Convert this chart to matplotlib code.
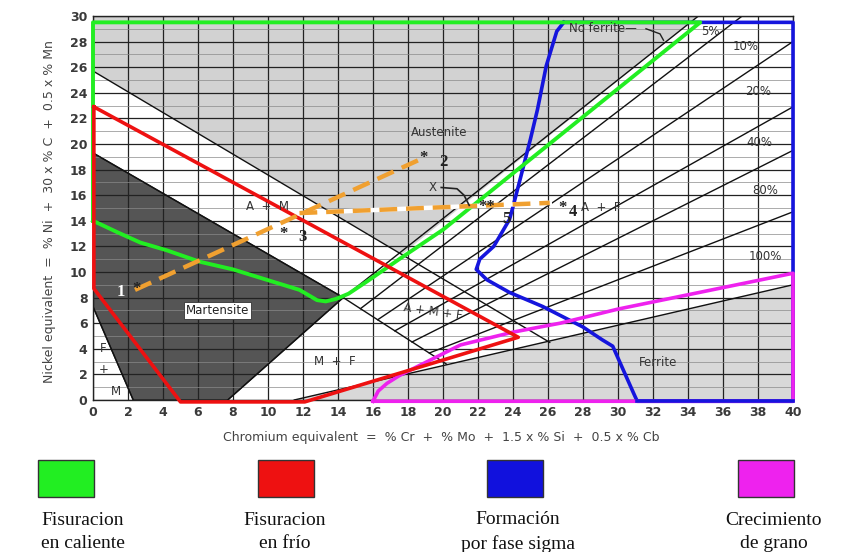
import matplotlib
matplotlib.use("Agg")
import matplotlib.pyplot as plt
from matplotlib.patches import Polygon, Rectangle

# --- datos del diagrama (Schaeffler) ---
x_ticks = list(range(0, 41, 2))
y_ticks = list(range(0, 31, 2))

# regiones de fase
austenita_x = [0, 34.6, 17.67, 0]
austenita_y = [30, 30, 11.39, 25.7]
martensita_x = [0, 14.3, 7.7, 2.3, 0]
martensita_y = [19.3, 8.0, 0, 0, 7.3]
ferrita_x = [11.5, 40, 40]
ferrita_y = [0, 9.0, 0]

# lineas negras
linea_am_x = [0, 26.1]
linea_am_y = [25.7, 4.5]
linea_mart_x = [0, 14.3, 20.2]
linea_mart_y = [19.3, 8.0, 2.8]
linea_fm_x = [0, 2.3]
linea_fm_y = [7.3, 0]
linea_mart_inf_x = [7.7, 14.3]
linea_mart_inf_y = [0, 8.0]

# lineas de ferrita (inicio y fin)
ferrita_pct = ["0%", "5%", "10%", "20%", "40%", "80%", "100%"]
fer_x0 = [14.3, 15.28, 16.27, 17.25, 18.23, 19.22, 11.5]
fer_y0 = [8.0, 7.13, 6.27, 5.4, 4.53, 3.67, 0.0]
fer_x1 = [34.6, 37.1, 40, 40, 40, 40, 40]
fer_y1 = [30, 30, 28.0, 22.9, 19.5, 14.7, 9.0]

# zonas de problemas
verde_x = [0, 1.4, 2.7, 4.2, 6.1, 8, 9.9, 11.8, 12.8, 13.3, 13.9, 14.6, 15.7, 17.5, 20, 34.7, 0, 0]
verde_y = [14, 13.1, 12.3, 11.7, 10.8, 10.2, 9.4, 8.6, 7.8, 7.7, 7.9, 8.3, 9.3, 11.0, 13.3, 29.5, 29.5, 14]
rojo_x = [0.05, 0.05, 5, 12.1, 24.3, 0.05]
rojo_y = [22.9, 8.7, -0.15, -0.15, 4.9, 22.9]
azul_x = [26.9, 26.5, 25.9, 25.4, 25.0, 24.4, 24.0, 23.8, 22.9, 22.1, 21.9, 22.5, 23.8,
          25.7, 28.0, 29.1, 29.7, 30.9, 31.1, 40, 40, 26.9]
azul_y = [29.5, 28.8, 26.1, 22.7, 20.4, 17.2, 15.1, 14.1, 12.0, 11.0, 10.2, 9.4, 8.4,
          7.3, 5.7, 4.7, 4.2, 0.5, -0.1, -0.1, 29.5, 29.5]
magenta_x = [16, 16.3, 16.8, 17.5, 19.1, 21, 24, 26.7, 30, 35, 40, 40, 16]
magenta_y = [-0.1, 0.7, 1.3, 1.9, 3.0, 4.3, 5.3, 6.0, 7.1, 8.5, 9.9, -0.1, -0.1]

# composiciones (lineas punteadas naranjas)
linea12_x = [2.4, 18.7]
linea12_y = [8.6, 18.8]
linea345_x = [11.8, 26.1]
linea345_y = [14.6, 15.4]

leyenda = ["Fisuracion\nen caliente", "Fisuracion\nen frío", "Formación\npor fase sigma", "Crecimiento\nde grano"]
leyenda_col = ["#22ee22", "#ee1111", "#1111dd", "#ee22ee"]

fig = plt.figure(figsize=(8.43, 5.52), dpi=100)
ax = fig.add_axes([0.1103, 0.2754, 0.8304, 0.6957])
ax.set_xlim(0, 40)
ax.set_ylim(0, 30)

# fondos grises
ax.add_patch(Polygon(list(zip(austenita_x, austenita_y)), closed=True, fc="#d2d2d2", ec="none", zorder=0.2))
ax.add_patch(Polygon(list(zip(ferrita_x, ferrita_y)), closed=True, fc="#d8d8d8", ec="none", zorder=0.2))
ax.add_patch(Polygon(list(zip(martensita_x, martensita_y)), closed=True, fc="#555555", ec="#222222", lw=1, zorder=0.3))

# grilla
ax.set_xticks(x_ticks)
ax.set_yticks(y_ticks)
ax.set_yticks(list(range(1, 30, 2)), minor=True)
ax.grid(True, which="major", color="#222222", lw=0.9)
ax.grid(True, which="minor", axis="y", color="#8a8a8a", lw=0.5)
ax.set_axisbelow(True)
ax.tick_params(which="both", length=0)
ax.tick_params(axis="both", pad=4, labelsize=9, labelcolor="#3a3a3a")
for lab in ax.get_xticklabels() + ax.get_yticklabels():
    lab.set_fontweight("bold")
for s in ax.spines.values():
    s.set_color("#222222")
    s.set_linewidth(1)

# lineas negras del diagrama
k = dict(color="#111111", lw=1.0, zorder=2)
ax.plot(linea_am_x, linea_am_y, **k)
ax.plot(linea_mart_x, linea_mart_y, **k)
ax.plot(linea_fm_x, linea_fm_y, **k)
ax.plot(linea_mart_inf_x, linea_mart_inf_y, **k)
for i in range(len(ferrita_pct)):
    ax.plot([fer_x0[i], fer_x1[i]], [fer_y0[i], fer_y1[i]], **k)

# zonas coloreadas
ax.plot(azul_x, azul_y, color="#1515dd", lw=2.6, zorder=3, clip_on=False, solid_joinstyle="round")
ax.plot(verde_x, verde_y, color="#22ee22", lw=2.8, zorder=4, clip_on=False, solid_joinstyle="round")
ax.plot(magenta_x, magenta_y, color="#ee22ee", lw=2.6, zorder=4, clip_on=False, solid_joinstyle="round")
ax.plot([31.1, 40], [-0.1, -0.1], color="#1515dd", lw=2.6, zorder=4.2, clip_on=False)
ax.plot(rojo_x, rojo_y, color="#ee1111", lw=2.6, zorder=5, clip_on=False, solid_joinstyle="round")

# composiciones
ax.plot(linea12_x, linea12_y, color="#f0a030", lw=3.2, ls=(0, (4, 2)), zorder=6)
ax.plot(linea345_x, linea345_y, color="white", lw=3.2, zorder=5.9)
ax.plot(linea345_x, linea345_y, color="#f0a030", lw=3.2, ls=(0, (4, 2)), zorder=6)

# textos dentro del diagrama
t = dict(fontsize=8.5, color="#333333", zorder=7)
ax.text(19.8, 20.9, "Austenite", ha="center", va="center", **t)
ax.text(27.2, 29.0, "No ferrite\u2014", ha="left", va="center", **t)
ax.plot([31.6, 32.4, 32.6], [29.0, 28.6, 28.1], color="#222222", lw=1, zorder=7)
ax.text(35.3, 28.8, "5%", ha="center", va="center", **t)
ax.text(37.3, 27.6, "10%", ha="center", va="center", **t)
ax.text(38.0, 24.1, "20%", ha="center", va="center", **t)
ax.text(38.1, 20.1, "40%", ha="center", va="center", **t)
ax.text(38.4, 16.4, "80%", ha="center", va="center", **t)
ax.text(38.4, 11.2, "100%", ha="center", va="center", **t)
ax.text(32.3, 2.9, "Ferrite", ha="center", va="center", **t)
ax.text(29.0, 15.0, "A  +  F", ha="center", va="center", **t)
ax.text(10.0, 15.1, "A  +  M", ha="center", va="center", **t)
ax.text(19.4, 6.9, "A + M + F", ha="center", va="center", rotation=-8, **t)
ax.text(13.8, 3.0, "M  +  F", ha="center", va="center", **t)
ax.text(0.6, 4.0, "F", ha="center", va="center", **t)
ax.text(0.6, 2.4, "+", ha="center", va="center", **t)
ax.text(1.3, 0.7, "M", ha="center", va="center", **t)
ax.text(7.1, 7.0, "Martensite", ha="center", va="center", fontsize=8.5, color="#222222", zorder=7,
        bbox=dict(fc="white", ec="#333333", lw=0.6, pad=1.2))
ax.text(19.4, 16.6, "X", ha="center", va="center", **t)
ax.plot([19.9, 20.8, 21.2, 21.5], [16.6, 16.5, 16.0, 15.2], color="#222222", lw=1.2, zorder=7)

# puntos numerados
n = dict(family="Liberation Serif", fontsize=12, fontweight="bold", color="#222222", zorder=8)
ax.text(1.6, 8.4, "1", ha="center", va="center", color="white", fontsize=12,
        family="Liberation Serif", fontweight="bold", zorder=8)
ax.text(2.5, 8.7, "*", ha="center", va="center", **n)
ax.text(18.9, 18.9, "*", ha="center", va="center", **n)
ax.text(20.0, 18.6, "2", ha="center", va="center", **n)
ax.text(10.9, 13.0, "*", ha="center", va="center", **n)
ax.text(12.0, 12.7, "3", ha="center", va="center", **n)
ax.text(22.5, 15.1, "**", ha="center", va="center", **n)
ax.text(23.6, 14.1, "5", ha="center", va="center", **n)
ax.text(26.8, 15.0, "*", ha="center", va="center", **n)
ax.text(27.4, 14.7, "4", ha="center", va="center", **n)

# titulos de ejes
fig.text(50 / 843, 1 - 212 / 552, "Nickel equivalent  =  % Ni  +  30 x % C  +  0.5 x % Mn",
         rotation=90, ha="center", va="center", fontsize=9, color="#444444")
fig.text(441 / 843, 1 - 437 / 552, "Chromium equivalent  =  % Cr  +  % Mo  +  1.5 x % Si  +  0.5 x % Cb",
         ha="center", va="center", fontsize=9, color="#444444")

# leyenda
cuadro_x = [38, 258, 487, 738]
texto_x = [83, 285, 518, 774]
for i in range(4):
    fig.add_artist(Rectangle((cuadro_x[i] / 843, 1 - 497 / 552), 56 / 843, 37 / 552,
                             transform=fig.transFigure, fc=leyenda_col[i], ec="#333333", lw=1))
    fig.text(texto_x[i] / 843, 1 - 532 / 552, leyenda[i], ha="center", va="center",
             family="Liberation Serif", fontsize=14, linespacing=1.45, color="#111111")

fig.savefig("out.png", dpi=100)
